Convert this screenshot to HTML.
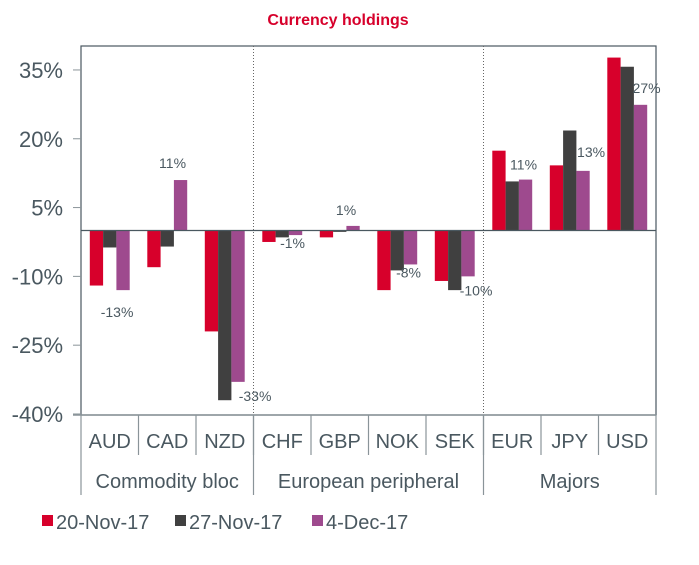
<!DOCTYPE html>
<html><head><meta charset="utf-8"><style>
body{margin:0;background:#fff;}
svg text{font-family:"Liberation Sans",Arial,sans-serif;}
</style></head><body>
<svg id="c" width="699" height="560" xmlns="http://www.w3.org/2000/svg">
<text x="338" y="25" text-anchor="middle" font-size="16" font-weight="bold" fill="#d7002b">Currency holdings</text>
</svg>
<script>
const categories=["AUD","CAD","NZD","CHF","GBP","NOK","SEK","EUR","JPY","USD"];
const nov20=[-12,-8,-22,-2.5,-1.5,-13,-11,17.4,14.2,37.7];
const nov27=[-3.7,-3.5,-37,-1.5,-0.3,-8.7,-13,10.7,21.8,35.7];
const dec4=[-13,11,-33,-1,1,-7.4,-10,11.1,13,27.4];
const dec4Labels=["-13%","11%","-33%","-1%","1%","-8%","-10%","11%","13%","27%"];
const yTicks=[35,20,5,-10,-25,-40];
const groups=[["Commodity bloc",0,3],["European peripheral",3,7],["Majors",7,10]];
const seriesNames=["20-Nov-17","27-Nov-17","4-Dec-17"];
const colors=["#d7002b","#404040","#9e4a8e"];
// label offsets (styling)
const ldx=[-6,-8,17,-3,-7,-2,8,-2,8,6];
const ldy=[27,-12,19,13,-11,13,19,-10,-14,-12];

const svg=document.getElementById('c');
const NS="http://www.w3.org/2000/svg";
const L=81,R=656,T=46,B=415,step=(R-L)/categories.length;
const y=v=>230.5-v*4.587;
const xc=i=>L+step*(i+0.5);
function el(t,a,txt){const e=document.createElementNS(NS,t);for(const k in a)e.setAttribute(k,a[k]);if(txt!==undefined)e.textContent=txt;svg.appendChild(e);return e;}

let e;
e=el('rect',{x:L,y:T,width:R-L,height:B-T,fill:'none',stroke:'#4a5860','stroke-width':1.2});


yTicks.forEach(t=>{
 e=el('text',{x:63,y:y(t)+8,'text-anchor':'end','font-size':22,fill:'#4a5860'},t+'%');
 
 
 e=el('line',{x1:73,x2:L,y1:y(t),y2:y(t),stroke:'#8a9499'});
 
 
});
const bw=13.3;
[nov20,nov27,dec4].forEach((s,si)=>{
 s.forEach((v,i)=>{
  const x=xc(i)-1.5*bw+si*bw;
  e=el('rect',{x:x,y:Math.min(y(v),y(0)),width:bw,height:Math.abs(y(v)-y(0)),fill:colors[si]});
  
  
 });
});
e=el('line',{x1:L,x2:R,y1:y(0),y2:y(0),stroke:'#4a5860','stroke-width':1.2});


dec4.forEach((v,i)=>{
 e=el('text',{x:xc(i)+bw+ldx[i],y:y(v)+ldy[i],'text-anchor':'middle','font-size':14,fill:'#4a5860'},dec4Labels[i]);
 
 
});
e=el('line',{x1:L-8,x2:R,y1:B,y2:B,stroke:'#8a9499','stroke-width':1.5});


categories.forEach((c,i)=>{
 e=el('text',{x:xc(i),y:448,'text-anchor':'middle','font-size':20,fill:'#4a5860'},c);
 
 
 if(i>0){e=el('line',{x1:L+step*i,x2:L+step*i,y1:B,y2:455,stroke:'#8a9499','stroke-width':1.2});
 
 }
});
e=el('line',{x1:L,x2:L,y1:B,y2:495,stroke:'#8a9499','stroke-width':1.2});


groups.forEach(g=>{
 const x0=L+step*g[1],x1=L+step*g[2];
 e=el('text',{x:(x0+x1)/2,y:488,'text-anchor':'middle','font-size':20,fill:'#4a5860'},g[0]);
 
 
 e=el('line',{x1:x1,x2:x1,y1:B,y2:495,stroke:'#8a9499','stroke-width':1.2});
 
 
 if(g[2]<categories.length){
  e=el('line',{x1:x1,x2:x1,y1:T,y2:B,stroke:'#666','stroke-width':1,'stroke-dasharray':'1,2'});
  
  
 }
});
const lx=[42,175,312];
seriesNames.forEach((n,i)=>{
 e=el('rect',{x:lx[i],y:515,width:11,height:11,fill:colors[i]});
 
 
 e=el('text',{x:lx[i]+14,y:529,'font-size':20,fill:'#4a5860'},n);
 
 
});
</script>
</body></html>
